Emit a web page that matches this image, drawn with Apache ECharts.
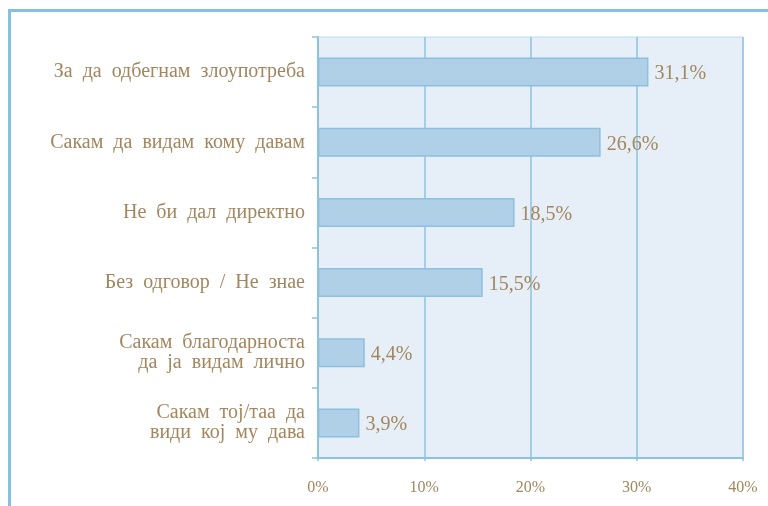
<!DOCTYPE html>
<html>
<head>
<meta charset="utf-8">
<script src="https://cdn.jsdelivr.net/npm/echarts@6/dist/echarts.min.js"></script>
<style>
  html, body { margin: 0; padding: 0; background: #ffffff; }
  #chart { width: 768px; height: 506px; }
</style>
</head>
<body>
<div id="chart"></div>
<script>
// Reasons given by respondents (share of answers, %)
const categories = [
  'За  да  одбегнам  злоупотреба',
  'Сакам  да  видам  кому  давам',
  'Не  би  дал  директно',
  'Без  одговор  /  Не  знае',
  'Сакам  благодарноста\nда  ја  видам  лично',
  'Сакам  тој/таа  да\nвиди  кој  му  дава'
];
const values = [31.1, 26.6, 18.5, 15.5, 4.4, 3.9];
const axisMax = 40;
const axisStep = 10;

const textColor = '#a2865e';
const lineColor = '#8ec3e0';
const serif = '"Liberation Serif", "DejaVu Serif", serif';

const chart = echarts.init(document.getElementById('chart'), null, { renderer: 'canvas' });

chart.setOption({
  backgroundColor: '#ffffff',
  animation: false,
  grid: {
    left: 318, right: 25, top: 37, bottom: 48,
    show: true,
    backgroundColor: '#e6eff8',
    borderColor: '#bddbee',
    borderWidth: 1
  },
  xAxis: {
    type: 'value',
    min: 0, max: axisMax, interval: axisStep,
    axisLine: { show: true, lineStyle: { color: lineColor, width: 2 } },
    axisTick: { show: true, length: 3, lineStyle: { color: lineColor, width: 1.5 } },
    splitLine: { show: true, lineStyle: { color: lineColor, width: 1.5 } },
    axisLabel: {
      margin: 22,
      color: textColor,
      fontFamily: serif,
      fontSize: 16,
      formatter: v => v + '%'
    }
  },
  yAxis: {
    type: 'category',
    inverse: true,
    data: categories,
    axisLine: { show: true, lineStyle: { color: lineColor, width: 2 } },
    axisTick: { show: true, length: 6, lineStyle: { color: lineColor, width: 1.5 } },
    axisLabel: {
      margin: 13,
      color: textColor,
      fontFamily: serif,
      fontSize: 20,
      lineHeight: 20,
      align: 'right'
    }
  },
  series: [{
    type: 'bar',
    data: values,
    barWidth: 29,
    itemStyle: {
      color: '#b0d0e7',
      borderColor: '#8cc0e0',
      borderWidth: 1.5
    },
    label: {
      show: true,
      position: 'right',
      distance: 6,
      offset: [0, 2],
      color: textColor,
      fontFamily: serif,
      fontSize: 20,
      formatter: p => String(p.value).replace('.', ',') + '%'
    }
  }],
  graphic: [
    // outer frame lines along the top and left edges
    { type: 'line', shape: { x1: 8, y1: 10.5, x2: 768, y2: 10.5 }, style: { stroke: '#86bfe0', lineWidth: 3 } },
    { type: 'line', shape: { x1: 9.5, y1: 9, x2: 9.5, y2: 506 }, style: { stroke: '#86bfe0', lineWidth: 3 } }
  ]
});
</script>
</body>
</html>
